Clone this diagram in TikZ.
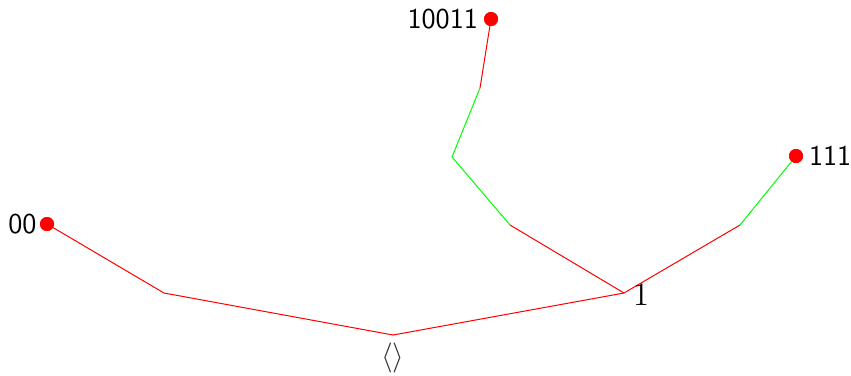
\documentclass[tikz,border=0pt]{standalone}
\usepackage{amsmath}
\usepackage{tikz}
\usetikzlibrary{calc, positioning}

\begin{document}
\begin{tikzpicture}[x=0.4pt, y=-0.4pt,
    leaf/.style={circle, fill=red, inner sep=0pt, minimum size=5.6pt},
    redge/.style={red, line width=0.4pt},
    gedge/.style={green, line width=0.4pt},
    lab/.style={font=\sffamily\fontsize{11.5}{13}\selectfont, inner sep=1pt}]

    % =================================================================
    % 1. BOUNDING BOX
    % =================================================================
    \useasboundingbox (0,0) rectangle (851,375);

    % =================================================================
    % 2. POINTS OF THE TREE
    % =================================================================
    \coordinate (R) at (393,335);
    \coordinate (L0) at (164,293);
    \coordinate (N1) at (624,293);
    \coordinate (N10) at (510,225);
    \coordinate (N100) at (452,157);
    \coordinate (N1001) at (480,88);
    \coordinate (N11) at (740,225);

    \node[leaf] (L00) at (47,224) {};
    \node[leaf] (L10011) at (491,19) {};
    \node[leaf] (L111) at (796,156) {};

    % =================================================================
    % 3. EDGES
    % =================================================================
    \draw[redge] (R) -- (L0) -- (L00.center);
    \draw[redge] (R) -- (N1);
    \draw[redge] (N1) -- (N10);
    \draw[gedge] (N10) -- (N100) -- (N1001);
    \draw[redge] (N1001) -- (L10011.center);
    \draw[redge] (N1) -- (N11);
    \draw[gedge] (N11) -- (L111.center);

    % redraw dots on top
    \node[leaf] at (L00) {};
    \node[leaf] at (L10011) {};
    \node[leaf] at (L111) {};

    % =================================================================
    % 4. LABELS
    % =================================================================
    \node[lab, left=0pt of L00] (t00) {00};
    \node[lab, left=1pt of L10011] (t10011) {10011};
    \node[lab, right=1pt of L111] (t111) {111};
    \node[font=\fontsize{13}{15}\selectfont, inner sep=1pt] (t1) at (641,295) {1};
    \node[text=black!80, font=\fontsize{12}{14}\selectfont, inner sep=1pt] (troot) at (393,358) {$\langle\rangle$};

\end{tikzpicture}
\end{document}
